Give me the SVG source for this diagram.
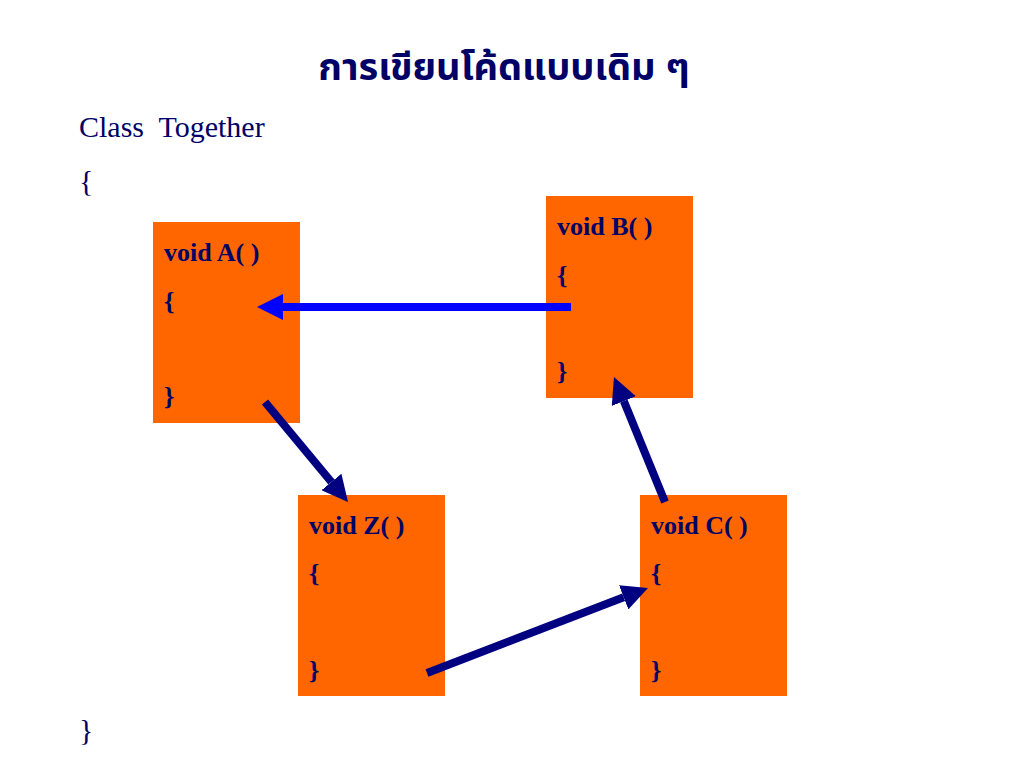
<svg xmlns="http://www.w3.org/2000/svg" width="1024" height="768" viewBox="0 0 1024 768">
<style>
.box{fill:#FF6600}
.code{font-family:"Liberation Serif","Times New Roman",serif;font-weight:bold;font-size:26px;fill:#000066}
.plain{font-family:"Liberation Serif","Times New Roman",serif;font-size:30px;fill:#000066}
.title{font-family:"Noto Sans Thai","Loma","Garuda","Noto Sans","DejaVu Sans",sans-serif;font-weight:bold;font-size:38px;fill:#000066}
.navy{stroke:#000080;stroke-width:8;fill:none}
.blue{stroke:#0000FF;stroke-width:8;fill:none}
</style>
<defs>
<marker id="hNavy" markerUnits="userSpaceOnUse" markerWidth="26" markerHeight="26" refX="0" refY="13" orient="auto" viewBox="0 0 26 26"><path d="M0,0 L26,13 L0,26 z" fill="#000080"/></marker>
<marker id="hBlue" markerUnits="userSpaceOnUse" markerWidth="26" markerHeight="26" refX="0" refY="13" orient="auto" viewBox="0 0 26 26"><path d="M0,0 L26,13 L0,26 z" fill="#0000FF"/></marker>
</defs>
<rect width="1024" height="768" fill="#FFFFFF"/>
<text class="title" x="504" y="80" text-anchor="middle">การเขียนโค้ดแบบเดิม ๆ</text>
<text class="plain" x="79" y="137" xml:space="preserve">Class  Together</text>
<text class="plain" x="79" y="191">{</text>
<text class="plain" x="79" y="740">}</text>
<g id="nodeA">
<rect class="box" x="153" y="222" width="147" height="201"/>
<text class="code" x="164" y="261">void A( )</text>
<text class="code" x="164" y="310">{</text>
<text class="code" x="164" y="405">}</text>
</g>
<g id="nodeB">
<rect class="box" x="546" y="196" width="147" height="202"/>
<text class="code" x="557" y="235">void B( )</text>
<text class="code" x="557" y="284">{</text>
<text class="code" x="557" y="380">}</text>
</g>
<g id="nodeZ">
<rect class="box" x="298" y="495" width="147" height="201"/>
<text class="code" x="309" y="534">void Z( )</text>
<text class="code" x="309" y="582">{</text>
<text class="code" x="309" y="679">}</text>
</g>
<g id="nodeC">
<rect class="box" x="640" y="495" width="147" height="201"/>
<text class="code" x="651" y="534">void C( )</text>
<text class="code" x="651" y="582">{</text>
<text class="code" x="651" y="679">}</text>
</g>
<g id="connectors">
<line class="blue" x1="571" y1="307" x2="283" y2="307" marker-end="url(#hBlue)"/>
<line class="navy" x1="265" y1="402" x2="331.4" y2="482" marker-end="url(#hNavy)"/>
<line class="navy" x1="427" y1="673" x2="623.7" y2="597.3" marker-end="url(#hNavy)"/>
<line class="navy" x1="665" y1="502" x2="623.8" y2="401.1" marker-end="url(#hNavy)"/>
</g>
</svg>
